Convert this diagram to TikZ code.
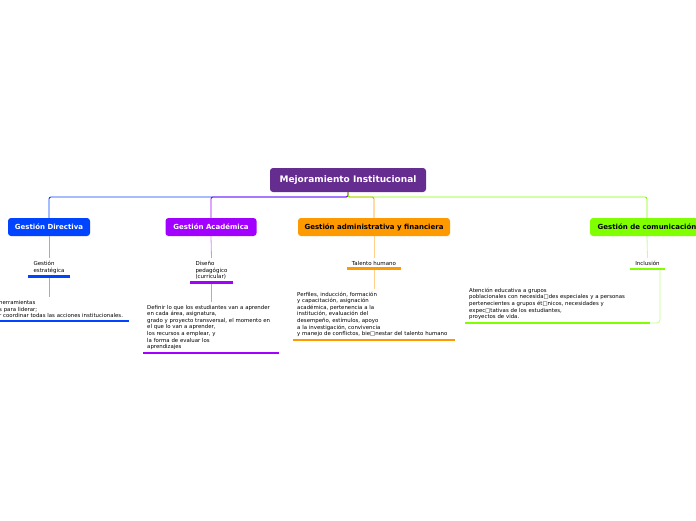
\documentclass[tikz,border=0pt]{standalone}
\usepackage{fontspec}
\setmainfont{DejaVu Sans}
\definecolor{cRoot}{RGB}{102,45,145}
\definecolor{cDir}{RGB}{0,68,255}
\definecolor{cAca}{RGB}{162,0,255}
\definecolor{cAdm}{RGB}{255,153,0}
\definecolor{cCom}{RGB}{128,255,0}
\tikzset{
 rootbox/.style={rounded corners=3pt, fill=cRoot, text=white, font=\fontsize{9}{10}\selectfont\bfseries, minimum width=156pt, minimum height=24pt, inner sep=0pt},
 branchbox/.style={rounded corners=3pt, fill=#1, font=\fontsize{7}{8}\selectfont\bfseries, minimum height=18pt, inner sep=0pt},
 subtext/.style={font=\fontsize{5.5}{6.6}\selectfont, align=left, inner xsep=5pt, inner ysep=3pt, anchor=north},
 leaftext/.style={font=\fontsize{5.4}{6.6}\selectfont, align=left, inner xsep=4pt, inner ysep=3pt, anchor=south west},
 uline/.style={line width=2.6pt, draw=#1},
 conn/.style={draw=#1, line width=0.9pt, rounded corners=2pt},
 pale/.style={draw=#1!45!white, line width=0.8pt},
}
\begin{document}
\begin{tikzpicture}[x=1pt,y=-1pt]
\useasboundingbox (0,0) rectangle (696,520);
\clip (0,0) rectangle (696,520);
\fill[white] (0,0) rectangle (696,520);
% root and branches
\node[rootbox] (root) at (348,180) {Mejoramiento Institucional};
\node[branchbox=cDir, text=white, minimum width=82pt] (dir) at (49,227) {Gestión Directiva};
\node[branchbox=cAca, text=white, minimum width=91pt] (aca) at (211,227) {Gestión Académica};
\node[branchbox=cAdm, text=black, minimum width=152pt] (adm) at (374,227) {Gestión administrativa y financiera};
\node[branchbox=cCom, text=black, minimum width=114pt] (com) at (647,227) {Gestión de comunicación};
\coordinate (hub) at (348,197);
\draw[conn=cDir] (root.south) -- (hub) -| (dir.north);
\draw[conn=cAca] (root.south) -- (hub) -| (aca.north);
\draw[conn=cAdm] (root.south) -- (hub) -| (adm.north);
\draw[conn=cCom] (root.south) -- (hub) -| (com.north);
% sub nodes
\node[subtext] (s1) at (49,258) {Gestión\\estratégica};
\node[subtext] (s2) at (211.5,258) {Diseño\\pedagógico\\(curricular)};
\node[subtext] (s3) at (374,258) {Talento humano};
\node[subtext] (s4) at (647.5,258) {Inclusión};
% leaves
\node[leaftext, text width=126pt] (l1) at (-5,321) {herramientas\\s para liderar;\\r coordinar todas las acciones institucionales.};
\node[leaftext, text width=128pt] (l2) at (143,353) {Definir lo que los estudiantes van a aprender\\en cada área, asignatura,\\grado y proyecto transversal, el momento en\\el que lo van a aprender,\\los recursos a emplear, y\\la forma de evaluar los\\aprendizajes};
\node[leaftext, text width=154pt] (l3) at (293,340) {Perfiles, inducción, formación\\y capacitación, asignación\\académica, pertenencia a la\\institución, evaluación del\\desempeño, estímulos, apoyo\\a la investigación, convivencia\\y manejo de conflictos, bie□nestar del talento humano};
\node[leaftext, text width=177pt] (l4) at (465,323) {Atención educativa a grupos\\poblacionales con necesida□des especiales y a personas\\pertenecientes a grupos ét□nicos, necesidades y\\expec□tativas de los estudiantes,\\proyectos de vida.};
% pale connectors
\draw[pale=cDir] (dir.south) -- (s1.north);
\draw[pale=cAca] (aca.south) -- (s2.north);
\draw[pale=cAdm] (adm.south) -- (s3.north);
\draw[pale=cCom] (com.south) -- (s4.north);
\draw[pale=cDir] (s1.south) -- (s1.south |- l1.north);
\draw[pale=cAca] (s2.south) -- (s2.south |- l2.north);
\draw[pale=cAdm] (s3.south) -- (s3.south |- l3.north);
\draw[pale=cCom, rounded corners=3pt] ([xshift=-5pt]s4.south east) |- (l4.south east);
% underlines
\draw[uline=cDir] (s1.south west) -- (s1.south east);
\draw[uline=cAca] (s2.south west) -- (s2.south east);
\draw[uline=cAdm] (s3.south west) -- (s3.south east);
\draw[uline=cCom] (s4.south west) -- (s4.south east);
\draw[uline=cDir] (l1.south west) -- (l1.south east);
\draw[uline=cAca] (l2.south west) -- (l2.south east);
\draw[uline=cAdm] (l3.south west) -- (l3.south east);
\draw[uline=cCom] (l4.south west) -- (l4.south east);
\end{tikzpicture}
\end{document}
